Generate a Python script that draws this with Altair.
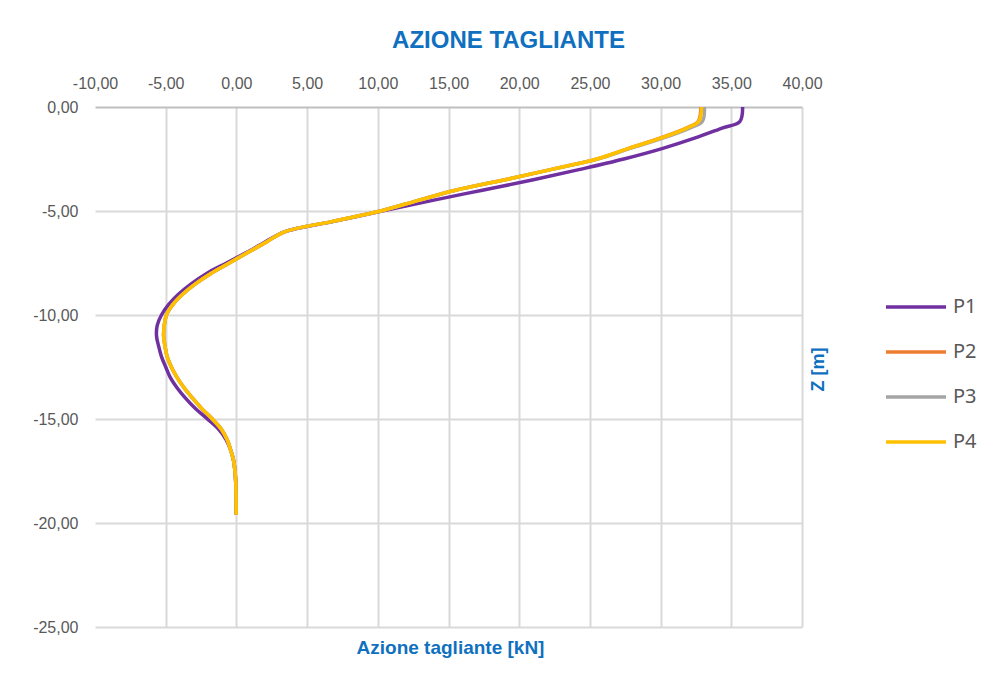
import altair as alt
import pandas as pd

# depth values [m]
z_vals = [0.0, -0.7, -1.0, -1.5, -2.0, -2.5, -3.0, -3.5, -4.0, -4.5, -5.0, -5.5,
          -6.0, -6.5, -7.0, -7.5, -8.0, -8.5, -9.0, -9.5, -10.0, -10.5, -11.0,
          -11.5, -12.0, -12.5, -13.0, -13.5, -14.0, -14.5, -15.0, -15.5, -16.0,
          -16.5, -17.0, -17.5, -18.0, -18.5, -19.0, -19.6]

# shear values [kN]
p1 = [35.8, 35.6, 34.4, 32.4, 30.1, 27.4, 24.3, 21.0, 17.4, 13.8, 10.3, 6.9,
      3.4, 2.0, 0.7, -0.7, -2.1, -3.2, -4.1, -4.8, -5.3, -5.6, -5.65,
      -5.5, -5.3, -5.0, -4.68, -4.2, -3.6, -2.9, -2.05, -1.25, -0.72,
      -0.4, -0.2, -0.1, -0.05, -0.03, -0.02, -0.01]
p2 = [32.85, 32.65, 31.85, 29.95, 27.7, 25.5, 22.3, 19.0, 15.5, 12.8, 10.2, 6.8,
      3.4, 2.1, 0.8, -0.5, -1.8, -2.9, -3.8, -4.5, -4.95, -5.1, -5.15,
      -5.05, -4.9, -4.6, -4.2, -3.7, -3.1, -2.45, -1.7, -1.05, -0.65,
      -0.4, -0.2, -0.1, -0.05, -0.03, -0.02, -0.01]
p3 = [33.1, 32.95, 32.1, 30.15, 27.8, 25.55, 22.3, 19.0, 15.5, 12.8, 10.2, 6.8,
      3.4, 2.1, 0.8, -0.5, -1.8, -2.9, -3.8, -4.5, -4.95, -5.1, -5.15,
      -5.05, -4.9, -4.6, -4.2, -3.7, -3.1, -2.45, -1.7, -1.05, -0.65,
      -0.4, -0.2, -0.1, -0.05, -0.03, -0.02, -0.01]
p4 = [32.9, 32.7, 31.9, 30.0, 27.7, 25.5, 22.3, 19.0, 15.5, 12.8, 10.2, 6.8,
      3.4, 2.1, 0.8, -0.5, -1.8, -2.9, -3.8, -4.5, -4.95, -5.1, -5.15,
      -5.05, -4.9, -4.6, -4.2, -3.7, -3.1, -2.45, -1.7, -1.05, -0.65,
      -0.4, -0.2, -0.1, -0.05, -0.03, -0.02, -0.01]

series_names = ["P1", "P2", "P3", "P4"]
series_values = [p1, p2, p3, p4]
series_colors = ["#7030A0", "#ED7D31", "#A5A5A5", "#FFC000"]

x_ticks = [-10, -5, 0, 5, 10, 15, 20, 25, 30, 35, 40]
y_ticks = [0, -5, -10, -15, -20, -25]

rows = []
for name, vals in zip(series_names, series_values):
    for i, (z, v) in enumerate(zip(z_vals, vals)):
        rows.append({"serie": name, "V": v, "Z": z, "idx": i})
df = pd.DataFrame(rows)

blue = "#1070C0"
label_expr = "replace(replace(format(datum.value, '.2f'), '.', ','), '\u2212', '-')"

chart = alt.Chart(df).mark_line(
    strokeWidth=3.5, interpolate="catmull-rom"
).encode(
    x=alt.X("V:Q",
            scale=alt.Scale(domain=[-10, 40], nice=False, zero=False),
            axis=alt.Axis(
                orient="top", values=x_ticks, labelExpr=label_expr,
                title="Azione tagliante [kN]",
                titleX=355, titleY=540, titleAlign="center", titleBaseline="middle",
                titleFont="Liberation Sans", titleFontSize=19, titleFontWeight="bold",
                titleColor=blue,
                labelFont="Liberation Sans", labelFontSize=16, labelColor="#595959",
                labelPadding=16, labelFlush=False, labelOverlap=False,
                ticks=False, tickSize=0, domain=False,
                gridColor={"condition": {"test": "datum.value === -10", "value": "transparent"},
                           "value": "#D9D9D9"},
                gridWidth=2,
            )),
    y=alt.Y("Z:Q",
            scale=alt.Scale(domain=[-25, 0], nice=False, zero=False),
            axis=alt.Axis(
                orient="left", values=y_ticks, labelExpr=label_expr,
                title="Z [m]",
                titleX=723, titleY=262, titleAlign="center", titleBaseline="middle",
                titleAngle=270,
                titleFont="Liberation Sans", titleFontSize=18, titleFontWeight="bold",
                titleColor=blue,
                labelFont="Liberation Sans", labelFontSize=16, labelColor="#595959",
                labelPadding=17, labelFlush=False, labelOverlap=False,
                ticks=False, tickSize=0, domain=False,
                gridColor={"condition": {"test": "datum.value === 0", "value": "#BFBFBF"},
                           "value": "#D9D9D9"},
                gridWidth=2,
            )),
    color=alt.Color("serie:N",
                    scale=alt.Scale(domain=series_names, range=series_colors),
                    legend=alt.Legend(
                        title=None, orient="none", legendX=829, legendY=188,
                        symbolType="M-5,0H1", symbolSize=400, symbolStrokeWidth=3.5,
                        labelFont="Noto Sans", labelFontSize=20, labelColor="#595959",
                        labelOffset=5, rowPadding=23, padding=0)),
    order=alt.Order("idx:Q"),
).properties(
    width=707,
    height=520,
    title=alt.Title("AZIONE TAGLIANTE", font="Liberation Sans", fontSize=24,
                    fontWeight="bold", color=blue, anchor="middle", frame="group",
                    dx=60, offset=22),
    autosize=alt.AutoSizeParams(type="none"),
    padding={"left": 87, "top": 99, "right": 180, "bottom": 48},
).configure_view(stroke=None)

chart.save("out.html", embed_options={"renderer": "svg", "actions": False})
